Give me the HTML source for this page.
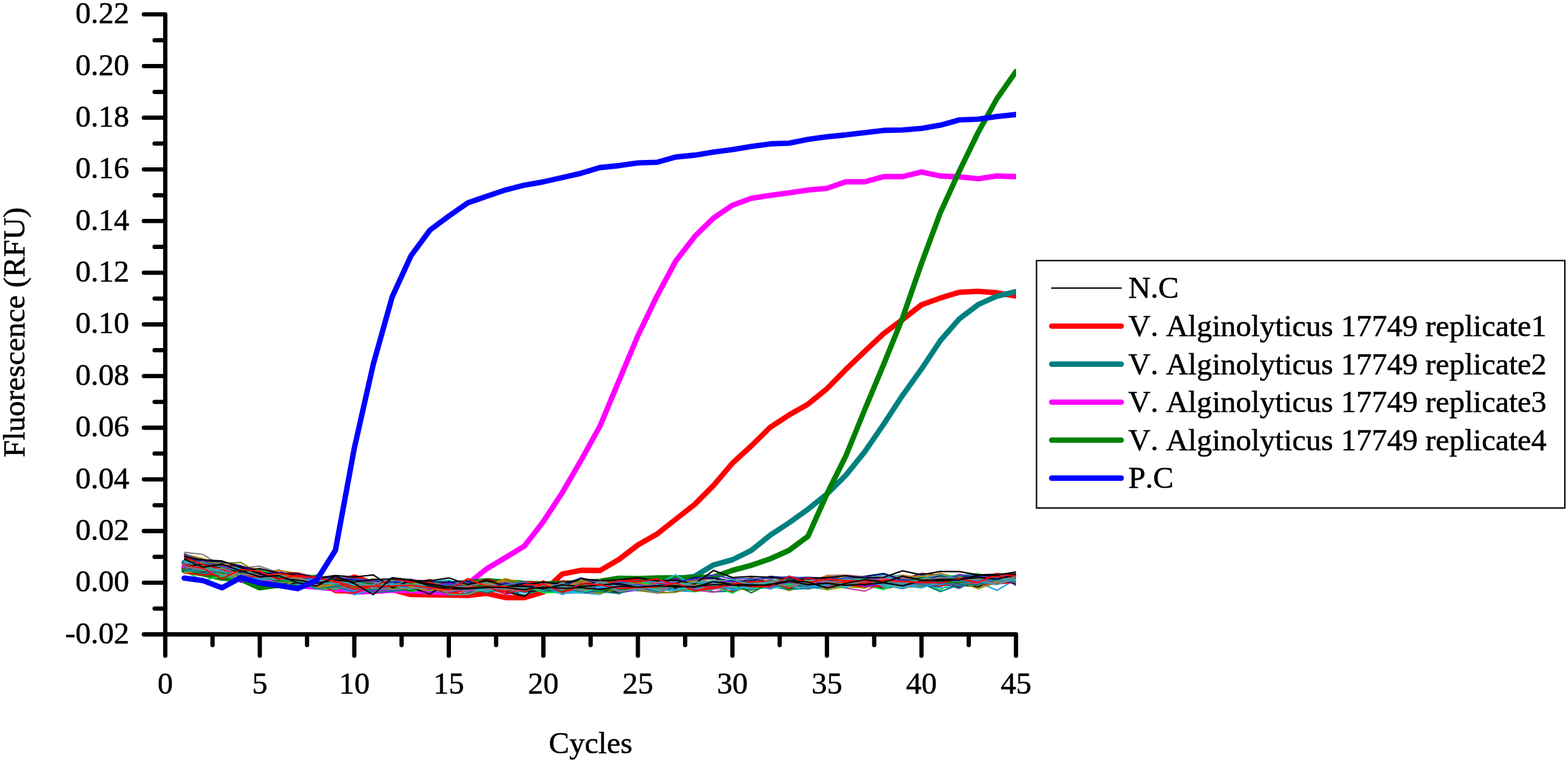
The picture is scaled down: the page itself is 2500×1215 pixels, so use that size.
<!DOCTYPE html>
<html><head><meta charset="utf-8"><style>html,body{margin:0;padding:0;background:#fff;}svg{display:block;}text{font-kerning:none;}</style></head><body>
<svg width="2500" height="1215" viewBox="0 0 2500 1215">
<rect width="2500" height="1215" fill="#fff"/>
<defs><clipPath id="pc"><rect x="0" y="0" width="1619.9" height="1215"/></clipPath></defs>
<g clip-path="url(#pc)">
<g fill="none" stroke-width="8.6" stroke-linejoin="round" stroke-linecap="round">
<polyline stroke="#ff0000" points="293.6,906.0 323.8,912.0 353.9,918.0 384.1,922.0 414.2,928.0 444.4,930.0 474.5,932.0 504.6,934.0 534.8,930.0 564.9,920.0 595.1,930.0 625.2,940.0 655.3,948.0 685.5,948.4 715.6,949.0 745.8,949.5 775.9,946.1 806.1,952.9 836.2,952.9 866.3,943.9 896.5,915.2 926.6,909.4 956.8,909.6 986.9,892.0 1017.0,869.0 1047.2,851.8 1077.3,828.0 1107.5,804.4 1137.6,774.1 1167.8,738.5 1197.9,711.0 1228.0,681.3 1258.2,661.6 1288.3,644.4 1318.5,619.8 1348.6,589.2 1378.8,560.2 1408.9,531.9 1439.0,509.5 1469.2,486.0 1499.3,475.2 1529.5,466.0 1559.6,464.5 1589.7,466.9 1619.9,472.0"/>
<polyline stroke="#008080" points="293.6,897.0 323.8,905.0 353.9,912.0 384.1,918.0 414.2,924.0 444.4,928.0 474.5,930.0 504.6,932.0 534.8,933.0 564.9,934.0 595.1,934.0 625.2,935.0 655.3,935.0 685.5,935.0 715.6,935.0 745.8,934.0 775.9,934.0 806.1,934.0 836.2,934.0 866.3,934.0 896.5,932.0 926.6,930.0 956.8,928.0 986.9,926.0 1017.0,925.0 1047.2,924.0 1077.3,923.0 1107.5,919.0 1137.6,900.8 1167.8,892.5 1197.9,877.6 1228.0,853.3 1258.2,833.5 1288.3,811.9 1318.5,787.6 1348.6,757.8 1378.8,720.2 1408.9,676.4 1439.0,630.4 1469.2,588.3 1499.3,543.1 1529.5,508.4 1559.6,485.7 1589.7,472.2 1619.9,465.0"/>
<polyline stroke="#ff00ff" points="293.6,903.0 323.8,910.0 353.9,915.0 384.1,920.0 414.2,926.0 444.4,930.0 474.5,934.0 504.6,936.0 534.8,939.0 564.9,944.0 595.1,943.0 625.2,941.0 655.3,942.0 685.5,944.0 715.6,945.0 745.8,931.0 775.9,907.0 806.1,889.0 836.2,870.7 866.3,831.6 896.5,785.5 926.6,733.7 956.8,679.0 986.9,607.0 1017.0,535.3 1047.2,472.7 1077.3,416.4 1107.5,377.3 1137.6,347.6 1167.8,327.3 1197.9,316.3 1228.0,311.6 1258.2,307.5 1288.3,303.0 1318.5,300.2 1348.6,289.9 1378.8,289.9 1408.9,281.6 1439.0,281.6 1469.2,274.3 1499.3,280.6 1529.5,282.0 1559.6,285.0 1589.7,280.6 1619.9,281.6"/>
<polyline stroke="#008000" points="293.6,909.8 323.8,915.1 353.9,921.8 384.1,923.8 414.2,937.2 444.4,933.0 474.5,932.0 504.6,931.0 534.8,930.0 564.9,931.0 595.1,932.0 625.2,931.0 655.3,930.0 685.5,930.0 715.6,931.0 745.8,929.0 775.9,926.0 806.1,928.0 836.2,930.0 866.3,931.0 896.5,930.0 926.6,929.0 956.8,926.8 986.9,922.0 1017.0,922.5 1047.2,921.5 1077.3,921.3 1107.5,921.0 1137.6,920.0 1167.8,909.5 1197.9,901.4 1228.0,891.0 1258.2,877.5 1288.3,855.0 1318.5,787.5 1348.6,727.0 1378.8,653.0 1408.9,581.0 1439.0,507.0 1469.2,420.0 1499.3,339.0 1529.5,273.0 1559.6,211.0 1589.7,157.0 1619.9,114.0"/>
</g>
<g fill="none" stroke-width="2.2" stroke-linejoin="miter">
<polyline stroke="#000000" points="293.6,897.7 323.8,902.8 353.9,905.4 384.1,912.8 414.2,922.9 444.4,923.0 474.5,928.8 504.6,928.4 534.8,932.1 564.9,934.2 595.1,926.9 625.2,938.8 655.3,938.1 685.5,938.9 715.6,930.1 745.8,929.9 775.9,933.8 806.1,935.8 836.2,939.3 866.3,937.8 896.5,940.0 926.6,934.6 956.8,938.5 986.9,938.6 1017.0,933.6 1047.2,943.5 1077.3,937.8 1107.5,940.0 1137.6,931.4 1167.8,930.3 1197.9,931.4 1228.0,931.9 1258.2,934.5 1288.3,932.2 1318.5,928.6 1348.6,925.7 1378.8,927.0 1408.9,934.1 1439.0,924.6 1469.2,928.6 1499.3,928.8 1529.5,919.8 1559.6,925.9 1589.7,930.9 1619.9,915.7"/>
<polyline stroke="#ff0000" points="293.6,892.8 323.8,904.2 353.9,907.1 384.1,905.3 414.2,919.6 444.4,922.1 474.5,926.4 504.6,931.7 534.8,930.0 564.9,932.0 595.1,926.6 625.2,935.9 655.3,931.3 685.5,932.8 715.6,930.1 745.8,931.5 775.9,933.5 806.1,941.6 836.2,927.1 866.3,929.8 896.5,936.9 926.6,941.9 956.8,937.8 986.9,926.6 1017.0,923.6 1047.2,935.7 1077.3,930.2 1107.5,928.0 1137.6,936.6 1167.8,936.5 1197.9,931.8 1228.0,931.6 1258.2,931.8 1288.3,936.3 1318.5,931.4 1348.6,930.4 1378.8,929.9 1408.9,920.0 1439.0,931.9 1469.2,929.9 1499.3,927.4 1529.5,915.8 1559.6,921.1 1589.7,927.0 1619.9,914.7"/>
<polyline stroke="#3070b0" points="293.6,895.0 323.8,913.2 353.9,913.8 384.1,914.9 414.2,921.1 444.4,925.6 474.5,926.4 504.6,933.9 534.8,929.0 564.9,933.1 595.1,940.4 625.2,936.7 655.3,933.5 685.5,942.4 715.6,945.5 745.8,937.2 775.9,933.2 806.1,938.8 836.2,938.8 866.3,938.2 896.5,945.4 926.6,934.4 956.8,944.2 986.9,932.8 1017.0,934.6 1047.2,940.2 1077.3,941.8 1107.5,940.0 1137.6,937.2 1167.8,935.7 1197.9,935.1 1228.0,936.4 1258.2,932.5 1288.3,933.9 1318.5,934.6 1348.6,931.5 1378.8,934.2 1408.9,932.7 1439.0,938.5 1469.2,930.5 1499.3,926.6 1529.5,926.2 1559.6,927.2 1589.7,930.7 1619.9,924.6"/>
<polyline stroke="#20a0e0" points="293.6,895.9 323.8,906.6 353.9,917.1 384.1,921.4 414.2,924.4 444.4,924.3 474.5,931.9 504.6,933.1 534.8,932.5 564.9,948.4 595.1,940.0 625.2,936.8 655.3,939.6 685.5,939.8 715.6,941.3 745.8,929.6 775.9,939.6 806.1,946.3 836.2,936.8 866.3,941.7 896.5,945.9 926.6,945.2 956.8,947.7 986.9,933.3 1017.0,939.0 1047.2,938.4 1077.3,942.1 1107.5,943.5 1137.6,926.3 1167.8,942.3 1197.9,930.5 1228.0,939.3 1258.2,929.1 1288.3,935.9 1318.5,939.8 1348.6,933.3 1378.8,934.2 1408.9,936.2 1439.0,932.7 1469.2,931.1 1499.3,937.7 1529.5,934.9 1559.6,928.4 1589.7,941.2 1619.9,923.5"/>
<polyline stroke="#808000" points="293.6,905.2 323.8,911.1 353.9,912.8 384.1,917.7 414.2,911.5 444.4,914.1 474.5,926.1 504.6,921.8 534.8,924.3 564.9,925.2 595.1,937.9 625.2,936.4 655.3,940.3 685.5,930.4 715.6,935.3 745.8,930.4 775.9,938.8 806.1,942.5 836.2,931.7 866.3,942.6 896.5,939.8 926.6,934.3 956.8,926.1 986.9,940.7 1017.0,933.8 1047.2,931.0 1077.3,934.8 1107.5,934.2 1137.6,938.4 1167.8,926.7 1197.9,935.6 1228.0,936.5 1258.2,935.8 1288.3,928.0 1318.5,924.9 1348.6,932.1 1378.8,927.5 1408.9,926.9 1439.0,932.1 1469.2,924.0 1499.3,914.5 1529.5,922.3 1559.6,915.2 1589.7,926.4 1619.9,923.6"/>
<polyline stroke="#a0a000" points="293.6,898.4 323.8,901.1 353.9,912.4 384.1,910.9 414.2,920.2 444.4,925.5 474.5,929.3 504.6,922.4 534.8,932.4 564.9,923.4 595.1,927.8 625.2,924.8 655.3,938.9 685.5,929.6 715.6,935.8 745.8,935.2 775.9,936.0 806.1,933.6 836.2,937.4 866.3,944.3 896.5,936.4 926.6,938.2 956.8,940.0 986.9,934.4 1017.0,929.4 1047.2,931.9 1077.3,938.5 1107.5,925.9 1137.6,929.9 1167.8,936.4 1197.9,934.9 1228.0,930.8 1258.2,933.7 1288.3,930.3 1318.5,923.8 1348.6,921.5 1378.8,925.0 1408.9,931.2 1439.0,924.1 1469.2,922.0 1499.3,922.0 1529.5,918.0 1559.6,923.7 1589.7,918.4 1619.9,924.6"/>
<polyline stroke="#808080" points="293.6,880.6 323.8,884.0 353.9,903.8 384.1,905.8 414.2,902.9 444.4,913.2 474.5,922.3 504.6,922.7 534.8,931.7 564.9,935.0 595.1,935.8 625.2,935.3 655.3,940.7 685.5,938.7 715.6,938.7 745.8,927.7 775.9,941.0 806.1,942.9 836.2,936.0 866.3,935.3 896.5,945.7 926.6,929.1 956.8,938.6 986.9,946.9 1017.0,931.9 1047.2,938.4 1077.3,943.1 1107.5,933.6 1137.6,936.0 1167.8,937.0 1197.9,928.4 1228.0,931.4 1258.2,932.5 1288.3,934.2 1318.5,929.8 1348.6,928.5 1378.8,924.3 1408.9,926.6 1439.0,931.5 1469.2,927.4 1499.3,922.6 1529.5,922.1 1559.6,936.9 1589.7,929.6 1619.9,926.8"/>
<polyline stroke="#8000ff" points="293.6,884.8 323.8,899.6 353.9,902.5 384.1,906.9 414.2,915.4 444.4,909.0 474.5,926.1 504.6,926.8 534.8,925.9 564.9,938.3 595.1,941.6 625.2,928.5 655.3,932.7 685.5,937.9 715.6,938.3 745.8,936.0 775.9,933.6 806.1,947.4 836.2,942.7 866.3,933.0 896.5,932.1 926.6,945.2 956.8,941.8 986.9,945.2 1017.0,940.4 1047.2,932.4 1077.3,936.8 1107.5,925.6 1137.6,931.2 1167.8,933.6 1197.9,935.6 1228.0,929.5 1258.2,931.5 1288.3,933.5 1318.5,932.5 1348.6,933.1 1378.8,930.6 1408.9,927.6 1439.0,931.9 1469.2,928.1 1499.3,923.6 1529.5,923.9 1559.6,926.1 1589.7,925.0 1619.9,925.6"/>
<polyline stroke="#800000" points="293.6,898.9 323.8,899.0 353.9,911.4 384.1,918.2 414.2,919.4 444.4,919.7 474.5,925.5 504.6,922.3 534.8,921.2 564.9,932.8 595.1,929.2 625.2,937.4 655.3,930.2 685.5,924.2 715.6,932.0 745.8,943.6 775.9,935.0 806.1,930.8 836.2,933.6 866.3,939.3 896.5,938.9 926.6,937.2 956.8,942.7 986.9,938.9 1017.0,935.4 1047.2,937.6 1077.3,941.6 1107.5,938.0 1137.6,937.6 1167.8,927.8 1197.9,931.3 1228.0,934.5 1258.2,929.4 1288.3,934.8 1318.5,932.2 1348.6,932.9 1378.8,927.4 1408.9,938.9 1439.0,932.6 1469.2,925.6 1499.3,926.3 1529.5,936.7 1559.6,923.2 1589.7,928.0 1619.9,927.8"/>
<polyline stroke="#b07070" points="293.6,896.4 323.8,902.1 353.9,910.5 384.1,913.0 414.2,913.6 444.4,920.3 474.5,921.9 504.6,923.4 534.8,925.7 564.9,927.4 595.1,932.3 625.2,925.5 655.3,928.1 685.5,931.7 715.6,926.1 745.8,930.7 775.9,923.9 806.1,929.8 836.2,935.4 866.3,935.5 896.5,932.5 926.6,931.4 956.8,925.9 986.9,939.8 1017.0,933.8 1047.2,935.7 1077.3,926.4 1107.5,928.9 1137.6,921.1 1167.8,931.9 1197.9,932.0 1228.0,919.0 1258.2,926.5 1288.3,928.9 1318.5,917.7 1348.6,916.9 1378.8,919.6 1408.9,920.9 1439.0,916.9 1469.2,922.6 1499.3,923.0 1529.5,924.1 1559.6,923.8 1589.7,926.7 1619.9,924.6"/>
<polyline stroke="#c08000" points="293.6,883.6 323.8,890.8 353.9,901.9 384.1,907.6 414.2,914.7 444.4,909.3 474.5,914.4 504.6,923.1 534.8,925.7 564.9,928.4 595.1,930.5 625.2,928.3 655.3,935.7 685.5,935.0 715.6,933.9 745.8,931.5 775.9,933.8 806.1,922.7 836.2,930.5 866.3,935.1 896.5,928.0 926.6,935.2 956.8,934.7 986.9,927.7 1017.0,932.4 1047.2,931.5 1077.3,934.3 1107.5,934.4 1137.6,930.9 1167.8,926.7 1197.9,929.2 1228.0,929.0 1258.2,931.9 1288.3,929.4 1318.5,924.3 1348.6,920.9 1378.8,924.6 1408.9,922.4 1439.0,920.2 1469.2,924.0 1499.3,921.7 1529.5,923.7 1559.6,925.0 1589.7,920.3 1619.9,931.7"/>
<polyline stroke="#008080" points="293.6,900.6 323.8,910.5 353.9,900.6 384.1,912.0 414.2,920.7 444.4,925.4 474.5,936.2 504.6,930.4 534.8,937.7 564.9,938.5 595.1,940.1 625.2,939.1 655.3,936.9 685.5,940.7 715.6,934.5 745.8,944.6 775.9,935.0 806.1,940.7 836.2,949.0 866.3,938.8 896.5,939.6 926.6,944.3 956.8,939.0 986.9,935.0 1017.0,939.4 1047.2,940.3 1077.3,940.2 1107.5,933.1 1137.6,943.6 1167.8,942.6 1197.9,934.8 1228.0,935.3 1258.2,931.6 1288.3,939.1 1318.5,929.2 1348.6,934.7 1378.8,929.0 1408.9,927.5 1439.0,933.1 1469.2,935.2 1499.3,928.7 1529.5,925.1 1559.6,931.1 1589.7,926.7 1619.9,927.7"/>
<polyline stroke="#00e040" points="293.6,910.8 323.8,925.5 353.9,918.4 384.1,924.4 414.2,920.9 444.4,925.8 474.5,920.6 504.6,938.7 534.8,939.5 564.9,930.9 595.1,930.2 625.2,930.3 655.3,943.3 685.5,936.8 715.6,939.3 745.8,938.3 775.9,939.2 806.1,935.0 836.2,940.0 866.3,933.6 896.5,939.3 926.6,940.7 956.8,941.1 986.9,937.7 1017.0,934.4 1047.2,938.5 1077.3,935.1 1107.5,943.5 1137.6,939.4 1167.8,934.9 1197.9,932.7 1228.0,931.1 1258.2,929.5 1288.3,931.4 1318.5,933.7 1348.6,934.1 1378.8,933.7 1408.9,939.8 1439.0,926.9 1469.2,929.5 1499.3,941.1 1529.5,920.0 1559.6,925.3 1589.7,927.7 1619.9,927.1"/>
<polyline stroke="#000080" points="293.6,902.7 323.8,905.7 353.9,913.3 384.1,905.2 414.2,913.3 444.4,920.0 474.5,918.3 504.6,921.1 534.8,931.3 564.9,928.6 595.1,935.0 625.2,936.3 655.3,935.1 685.5,936.8 715.6,934.9 745.8,929.2 775.9,935.4 806.1,937.6 836.2,933.4 866.3,935.4 896.5,938.8 926.6,931.3 956.8,937.7 986.9,942.8 1017.0,931.8 1047.2,934.3 1077.3,932.4 1107.5,939.3 1137.6,933.3 1167.8,935.2 1197.9,927.6 1228.0,930.0 1258.2,929.4 1288.3,921.1 1318.5,934.6 1348.6,931.6 1378.8,919.4 1408.9,929.8 1439.0,925.3 1469.2,927.3 1499.3,926.3 1529.5,917.5 1559.6,922.6 1589.7,929.5 1619.9,919.8"/>
<polyline stroke="#60a060" points="293.6,882.4 323.8,896.0 353.9,908.3 384.1,907.8 414.2,911.7 444.4,924.0 474.5,915.3 504.6,918.0 534.8,926.5 564.9,929.8 595.1,923.8 625.2,924.1 655.3,931.4 685.5,932.0 715.6,926.0 745.8,931.0 775.9,929.7 806.1,934.2 836.2,931.8 866.3,932.0 896.5,930.5 926.6,936.4 956.8,937.6 986.9,929.6 1017.0,934.6 1047.2,927.0 1077.3,930.0 1107.5,932.4 1137.6,935.2 1167.8,926.2 1197.9,927.0 1228.0,927.6 1258.2,919.5 1288.3,925.6 1318.5,921.9 1348.6,926.0 1378.8,918.7 1408.9,914.4 1439.0,922.7 1469.2,923.1 1499.3,918.9 1529.5,924.6 1559.6,918.9 1589.7,916.9 1619.9,921.0"/>
<polyline stroke="#20c0d0" points="293.6,885.9 323.8,897.5 353.9,900.1 384.1,907.7 414.2,908.6 444.4,916.7 474.5,926.3 504.6,919.5 534.8,936.3 564.9,926.3 595.1,930.2 625.2,931.9 655.3,936.5 685.5,927.5 715.6,924.5 745.8,936.6 775.9,937.6 806.1,936.9 836.2,945.9 866.3,935.3 896.5,935.2 926.6,937.9 956.8,935.2 986.9,940.6 1017.0,927.5 1047.2,930.7 1077.3,916.6 1107.5,934.7 1137.6,928.9 1167.8,934.0 1197.9,938.8 1228.0,928.7 1258.2,927.0 1288.3,925.4 1318.5,923.3 1348.6,923.6 1378.8,928.6 1408.9,925.3 1439.0,924.9 1469.2,923.2 1499.3,927.4 1529.5,924.9 1559.6,921.5 1589.7,924.5 1619.9,920.3"/>
<polyline stroke="#c040a0" points="293.6,897.3 323.8,898.1 353.9,913.6 384.1,915.5 414.2,911.9 444.4,929.5 474.5,927.4 504.6,933.2 534.8,933.4 564.9,935.1 595.1,929.9 625.2,941.9 655.3,938.6 685.5,938.1 715.6,941.8 745.8,940.7 775.9,943.5 806.1,939.0 836.2,940.6 866.3,931.4 896.5,938.7 926.6,943.2 956.8,945.8 986.9,938.1 1017.0,938.8 1047.2,945.7 1077.3,936.7 1107.5,940.8 1137.6,944.3 1167.8,936.5 1197.9,941.2 1228.0,932.0 1258.2,935.5 1288.3,933.6 1318.5,933.9 1348.6,937.7 1378.8,942.7 1408.9,928.6 1439.0,928.4 1469.2,932.6 1499.3,925.1 1529.5,931.4 1559.6,931.1 1589.7,926.7 1619.9,929.7"/>
<polyline stroke="#4040c0" points="293.6,883.6 323.8,895.1 353.9,902.7 384.1,908.9 414.2,919.6 444.4,920.0 474.5,921.6 504.6,929.2 534.8,937.1 564.9,933.5 595.1,936.1 625.2,940.9 655.3,937.5 685.5,931.6 715.6,949.0 745.8,947.9 775.9,929.6 806.1,938.3 836.2,940.5 866.3,943.0 896.5,941.4 926.6,937.0 956.8,933.2 986.9,938.0 1017.0,941.8 1047.2,931.9 1077.3,931.6 1107.5,935.4 1137.6,926.4 1167.8,933.1 1197.9,931.8 1228.0,935.1 1258.2,929.4 1288.3,928.0 1318.5,929.5 1348.6,930.5 1378.8,927.2 1408.9,929.5 1439.0,932.2 1469.2,933.5 1499.3,935.2 1529.5,923.6 1559.6,924.6 1589.7,915.0 1619.9,933.6"/>
<polyline stroke="#008000" points="293.6,896.1 323.8,894.1 353.9,908.1 384.1,910.6 414.2,907.2 444.4,920.0 474.5,927.2 504.6,917.0 534.8,931.9 564.9,932.4 595.1,934.5 625.2,935.2 655.3,939.9 685.5,934.0 715.6,939.7 745.8,934.1 775.9,939.3 806.1,932.6 836.2,935.8 866.3,944.0 896.5,938.0 926.6,935.1 956.8,930.5 986.9,931.7 1017.0,935.7 1047.2,938.4 1077.3,935.6 1107.5,935.4 1137.6,932.3 1167.8,937.8 1197.9,929.6 1228.0,928.3 1258.2,934.0 1288.3,929.8 1318.5,927.7 1348.6,925.8 1378.8,926.6 1408.9,929.8 1439.0,928.1 1469.2,920.6 1499.3,927.2 1529.5,925.5 1559.6,919.7 1589.7,926.9 1619.9,921.7"/>
<polyline stroke="#3070b0" points="293.6,904.9 323.8,901.6 353.9,912.0 384.1,910.5 414.2,928.8 444.4,919.7 474.5,930.2 504.6,925.2 534.8,934.7 564.9,944.0 595.1,923.9 625.2,934.0 655.3,938.9 685.5,937.1 715.6,935.4 745.8,947.9 775.9,938.9 806.1,931.4 836.2,942.5 866.3,931.3 896.5,943.6 926.6,935.7 956.8,938.6 986.9,943.2 1017.0,937.9 1047.2,930.7 1077.3,928.7 1107.5,940.8 1137.6,938.2 1167.8,930.8 1197.9,937.6 1228.0,935.4 1258.2,935.4 1288.3,922.0 1318.5,930.1 1348.6,934.7 1378.8,933.4 1408.9,933.5 1439.0,918.2 1469.2,929.1 1499.3,930.0 1529.5,938.4 1559.6,922.4 1589.7,924.5 1619.9,925.5"/>
<polyline stroke="#20a0e0" points="293.6,908.9 323.8,903.9 353.9,912.3 384.1,912.0 414.2,918.3 444.4,917.1 474.5,915.8 504.6,930.3 534.8,929.6 564.9,928.7 595.1,932.7 625.2,936.9 655.3,929.0 685.5,933.5 715.6,937.2 745.8,937.2 775.9,933.5 806.1,925.7 836.2,940.6 866.3,936.6 896.5,934.9 926.6,933.4 956.8,935.4 986.9,932.1 1017.0,929.2 1047.2,929.8 1077.3,929.8 1107.5,929.2 1137.6,926.2 1167.8,933.5 1197.9,924.3 1228.0,932.4 1258.2,924.4 1288.3,929.8 1318.5,933.7 1348.6,928.0 1378.8,923.3 1408.9,926.1 1439.0,925.9 1469.2,917.0 1499.3,921.4 1529.5,924.2 1559.6,920.8 1589.7,922.6 1619.9,924.9"/>
<polyline stroke="#000000" points="293.6,909.7 323.8,909.5 353.9,914.7 384.1,916.8 414.2,920.1 444.4,923.2 474.5,919.1 504.6,928.0 534.8,932.2 564.9,930.8 595.1,935.7 625.2,938.8 655.3,936.6 685.5,947.2 715.6,927.3 745.8,938.0 775.9,930.9 806.1,943.4 836.2,950.8 866.3,928.2 896.5,939.5 926.6,940.9 956.8,937.0 986.9,940.5 1017.0,927.9 1047.2,940.9 1077.3,938.2 1107.5,936.0 1137.6,932.7 1167.8,937.5 1197.9,932.0 1228.0,934.5 1258.2,930.7 1288.3,922.4 1318.5,931.6 1348.6,932.0 1378.8,933.8 1408.9,926.1 1439.0,929.2 1469.2,931.4 1499.3,928.8 1529.5,933.0 1559.6,935.7 1589.7,922.3 1619.9,917.3"/>
<polyline stroke="#ff0000" points="293.6,913.6 323.8,916.7 353.9,914.3 384.1,917.0 414.2,927.4 444.4,922.0 474.5,920.7 504.6,927.0 534.8,945.2 564.9,945.5 595.1,934.7 625.2,935.2 655.3,940.2 685.5,936.6 715.6,946.5 745.8,940.4 775.9,936.1 806.1,946.7 836.2,938.5 866.3,942.1 896.5,940.8 926.6,939.1 956.8,941.6 986.9,936.8 1017.0,931.5 1047.2,929.3 1077.3,932.8 1107.5,934.5 1137.6,937.1 1167.8,936.8 1197.9,938.4 1228.0,935.9 1258.2,931.3 1288.3,931.1 1318.5,924.3 1348.6,932.2 1378.8,934.5 1408.9,934.1 1439.0,930.7 1469.2,929.8 1499.3,934.1 1529.5,929.5 1559.6,932.0 1589.7,930.8 1619.9,928.5"/>
<polyline stroke="#808080" points="293.6,904.8 323.8,905.6 353.9,908.9 384.1,922.0 414.2,925.9 444.4,920.6 474.5,925.4 504.6,930.7 534.8,931.8 564.9,936.3 595.1,926.1 625.2,929.5 655.3,935.0 685.5,940.0 715.6,934.9 745.8,930.7 775.9,933.0 806.1,931.7 836.2,931.0 866.3,941.4 896.5,931.8 926.6,934.3 956.8,943.4 986.9,938.8 1017.0,934.8 1047.2,930.0 1077.3,933.9 1107.5,938.6 1137.6,933.6 1167.8,935.8 1197.9,930.1 1228.0,931.4 1258.2,927.6 1288.3,929.8 1318.5,933.0 1348.6,920.4 1378.8,925.8 1408.9,926.5 1439.0,922.4 1469.2,922.9 1499.3,927.1 1529.5,931.9 1559.6,925.3 1589.7,923.3 1619.9,914.5"/>
<polyline stroke="#40a0a0" points="293.6,912.6 323.8,909.4 353.9,916.6 384.1,914.1 414.2,921.8 444.4,925.5 474.5,925.8 504.6,929.3 534.8,926.9 564.9,939.6 595.1,930.9 625.2,926.4 655.3,934.2 685.5,932.4 715.6,932.0 745.8,935.0 775.9,937.9 806.1,931.4 836.2,936.1 866.3,943.1 896.5,939.5 926.6,935.5 956.8,936.4 986.9,935.0 1017.0,935.0 1047.2,937.9 1077.3,933.6 1107.5,922.9 1137.6,932.7 1167.8,928.3 1197.9,934.5 1228.0,928.3 1258.2,931.1 1288.3,939.4 1318.5,924.6 1348.6,923.7 1378.8,921.8 1408.9,916.9 1439.0,918.6 1469.2,927.8 1499.3,922.8 1529.5,916.8 1559.6,917.9 1589.7,926.5 1619.9,919.8"/>
<polyline stroke="#000000" points="293.6,903.4 323.8,911.6 353.9,913.1 384.1,913.5 414.2,918.0 444.4,928.3 474.5,929.8 504.6,925.3 534.8,931.7 564.9,934.1 595.1,933.9 625.2,932.3 655.3,929.5 685.5,933.8 715.6,930.2 745.8,942.4 775.9,939.5 806.1,932.0 836.2,943.5 866.3,941.4 896.5,928.8 926.6,945.0 956.8,940.2 986.9,945.4 1017.0,930.6 1047.2,937.7 1077.3,936.7 1107.5,935.1 1137.6,934.3 1167.8,937.6 1197.9,925.8 1228.0,926.3 1258.2,925.1 1288.3,928.1 1318.5,927.3 1348.6,931.0 1378.8,930.0 1408.9,928.3 1439.0,924.6 1469.2,925.0 1499.3,930.6 1529.5,929.2 1559.6,925.6 1589.7,923.2 1619.9,930.8"/>
<polyline stroke="#ff0000" points="293.6,901.9 323.8,901.7 353.9,912.2 384.1,908.3 414.2,922.1 444.4,921.8 474.5,917.2 504.6,930.3 534.8,926.6 564.9,939.3 595.1,931.5 625.2,934.6 655.3,937.5 685.5,935.6 715.6,939.0 745.8,935.6 775.9,941.1 806.1,938.2 836.2,939.3 866.3,926.3 896.5,943.2 926.6,938.0 956.8,929.7 986.9,937.7 1017.0,939.0 1047.2,941.1 1077.3,931.0 1107.5,942.0 1137.6,933.8 1167.8,944.5 1197.9,932.7 1228.0,935.7 1258.2,930.5 1288.3,926.6 1318.5,935.8 1348.6,934.3 1378.8,936.5 1408.9,932.9 1439.0,926.0 1469.2,920.6 1499.3,924.5 1529.5,923.8 1559.6,922.6 1589.7,928.1 1619.9,926.4"/>
<polyline stroke="#3070b0" points="293.6,897.0 323.8,904.0 353.9,911.8 384.1,916.9 414.2,913.9 444.4,913.4 474.5,929.5 504.6,926.8 534.8,934.2 564.9,925.1 595.1,931.8 625.2,934.2 655.3,928.5 685.5,933.4 715.6,939.7 745.8,941.3 775.9,943.7 806.1,933.0 836.2,930.7 866.3,939.3 896.5,940.8 926.6,937.3 956.8,930.4 986.9,939.3 1017.0,939.0 1047.2,937.4 1077.3,932.2 1107.5,935.1 1137.6,936.6 1167.8,930.1 1197.9,923.8 1228.0,932.8 1258.2,932.8 1288.3,930.2 1318.5,933.4 1348.6,926.3 1378.8,928.0 1408.9,926.4 1439.0,929.6 1469.2,933.5 1499.3,924.8 1529.5,934.4 1559.6,931.4 1589.7,927.6 1619.9,926.1"/>
<polyline stroke="#20a0e0" points="293.6,910.4 323.8,908.1 353.9,917.5 384.1,923.6 414.2,922.8 444.4,924.3 474.5,923.8 504.6,927.9 534.8,923.4 564.9,937.0 595.1,931.2 625.2,928.7 655.3,931.0 685.5,931.3 715.6,939.4 745.8,940.4 775.9,929.8 806.1,939.9 836.2,939.8 866.3,933.5 896.5,929.2 926.6,932.1 956.8,932.3 986.9,936.3 1017.0,932.9 1047.2,924.9 1077.3,934.3 1107.5,925.9 1137.6,936.0 1167.8,926.2 1197.9,927.8 1228.0,926.5 1258.2,927.3 1288.3,934.8 1318.5,932.2 1348.6,930.5 1378.8,928.7 1408.9,919.8 1439.0,923.8 1469.2,923.0 1499.3,920.6 1529.5,926.5 1559.6,920.4 1589.7,919.9 1619.9,917.9"/>
<polyline stroke="#808000" points="293.6,892.2 323.8,895.7 353.9,898.4 384.1,896.8 414.2,915.0 444.4,923.7 474.5,923.5 504.6,929.9 534.8,935.8 564.9,937.6 595.1,931.8 625.2,939.4 655.3,939.1 685.5,929.9 715.6,935.7 745.8,931.4 775.9,937.4 806.1,940.5 836.2,933.4 866.3,929.2 896.5,943.7 926.6,939.3 956.8,943.8 986.9,931.2 1017.0,941.4 1047.2,945.3 1077.3,944.4 1107.5,934.1 1137.6,935.6 1167.8,933.1 1197.9,937.6 1228.0,937.1 1258.2,932.4 1288.3,925.4 1318.5,934.0 1348.6,928.1 1378.8,932.4 1408.9,930.1 1439.0,935.5 1469.2,932.8 1499.3,925.2 1529.5,928.1 1559.6,933.7 1589.7,923.0 1619.9,926.7"/>
<polyline stroke="#a0a000" points="293.6,913.4 323.8,908.2 353.9,911.9 384.1,921.4 414.2,925.1 444.4,937.0 474.5,924.5 504.6,935.9 534.8,937.0 564.9,929.1 595.1,933.4 625.2,938.5 655.3,936.3 685.5,938.5 715.6,942.0 745.8,936.4 775.9,942.1 806.1,937.3 836.2,937.8 866.3,942.7 896.5,937.5 926.6,941.0 956.8,946.4 986.9,939.2 1017.0,938.1 1047.2,941.4 1077.3,936.0 1107.5,941.7 1137.6,930.7 1167.8,938.5 1197.9,932.9 1228.0,931.1 1258.2,941.8 1288.3,929.6 1318.5,940.5 1348.6,935.1 1378.8,938.0 1408.9,926.7 1439.0,935.6 1469.2,936.2 1499.3,928.7 1529.5,928.0 1559.6,938.8 1589.7,928.2 1619.9,924.9"/>
<polyline stroke="#808080" points="293.6,897.4 323.8,902.8 353.9,915.4 384.1,911.0 414.2,919.0 444.4,926.7 474.5,919.1 504.6,931.3 534.8,938.0 564.9,927.0 595.1,929.1 625.2,930.2 655.3,927.5 685.5,938.4 715.6,929.1 745.8,939.6 775.9,943.9 806.1,930.5 836.2,936.3 866.3,929.4 896.5,941.0 926.6,934.0 956.8,935.8 986.9,936.9 1017.0,938.7 1047.2,934.2 1077.3,935.2 1107.5,932.1 1137.6,934.4 1167.8,928.2 1197.9,933.0 1228.0,923.6 1258.2,929.4 1288.3,939.4 1318.5,930.7 1348.6,924.2 1378.8,930.3 1408.9,924.3 1439.0,920.7 1469.2,924.1 1499.3,930.0 1529.5,927.8 1559.6,925.1 1589.7,920.9 1619.9,919.6"/>
<polyline stroke="#8000ff" points="293.6,905.0 323.8,902.5 353.9,909.0 384.1,928.6 414.2,915.7 444.4,922.7 474.5,926.4 504.6,927.3 534.8,929.5 564.9,927.4 595.1,929.5 625.2,942.2 655.3,932.1 685.5,939.9 715.6,929.5 745.8,935.8 775.9,938.2 806.1,941.7 836.2,932.2 866.3,939.9 896.5,938.7 926.6,933.4 956.8,938.5 986.9,932.1 1017.0,932.2 1047.2,935.1 1077.3,922.6 1107.5,933.5 1137.6,928.9 1167.8,926.3 1197.9,930.3 1228.0,934.9 1258.2,929.2 1288.3,935.9 1318.5,924.6 1348.6,923.4 1378.8,935.4 1408.9,929.7 1439.0,931.5 1469.2,923.1 1499.3,929.7 1529.5,926.7 1559.6,927.8 1589.7,924.4 1619.9,929.0"/>
<polyline stroke="#800000" points="293.6,885.1 323.8,902.8 353.9,900.3 384.1,903.6 414.2,908.5 444.4,914.1 474.5,913.7 504.6,921.2 534.8,922.9 564.9,926.3 595.1,925.4 625.2,930.7 655.3,929.3 685.5,932.7 715.6,934.1 745.8,934.6 775.9,923.6 806.1,931.0 836.2,930.0 866.3,937.0 896.5,926.4 926.6,929.9 956.8,931.4 986.9,930.9 1017.0,936.5 1047.2,929.6 1077.3,935.2 1107.5,923.9 1137.6,921.7 1167.8,934.5 1197.9,930.4 1228.0,930.1 1258.2,927.9 1288.3,928.8 1318.5,920.8 1348.6,929.7 1378.8,922.6 1408.9,928.6 1439.0,924.1 1469.2,914.4 1499.3,916.8 1529.5,926.9 1559.6,920.7 1589.7,919.0 1619.9,921.2"/>
<polyline stroke="#b07070" points="293.6,894.8 323.8,900.8 353.9,912.4 384.1,910.3 414.2,922.7 444.4,925.6 474.5,928.4 504.6,928.6 534.8,927.6 564.9,930.7 595.1,930.4 625.2,928.6 655.3,932.4 685.5,930.7 715.6,941.5 745.8,936.8 775.9,932.6 806.1,926.2 836.2,934.5 866.3,933.0 896.5,929.8 926.6,929.3 956.8,924.1 986.9,936.2 1017.0,933.1 1047.2,944.1 1077.3,932.0 1107.5,930.9 1137.6,937.3 1167.8,931.0 1197.9,930.5 1228.0,927.5 1258.2,925.9 1288.3,934.6 1318.5,931.8 1348.6,934.3 1378.8,924.6 1408.9,925.7 1439.0,921.1 1469.2,928.6 1499.3,917.6 1529.5,925.7 1559.6,927.4 1589.7,928.2 1619.9,917.2"/>
<polyline stroke="#c08000" points="293.6,901.2 323.8,901.8 353.9,916.3 384.1,921.3 414.2,914.7 444.4,916.3 474.5,920.7 504.6,935.9 534.8,932.1 564.9,928.1 595.1,923.2 625.2,928.8 655.3,937.7 685.5,941.5 715.6,932.8 745.8,931.0 775.9,931.9 806.1,925.9 836.2,938.3 866.3,929.6 896.5,938.8 926.6,926.3 956.8,927.9 986.9,934.4 1017.0,929.5 1047.2,935.7 1077.3,931.7 1107.5,925.9 1137.6,933.2 1167.8,933.6 1197.9,920.8 1228.0,936.7 1258.2,930.2 1288.3,930.8 1318.5,918.7 1348.6,923.1 1378.8,924.1 1408.9,929.8 1439.0,918.0 1469.2,920.0 1499.3,914.3 1529.5,921.6 1559.6,923.6 1589.7,914.0 1619.9,918.3"/>
<polyline stroke="#008080" points="293.6,910.3 323.8,910.1 353.9,910.6 384.1,915.2 414.2,920.0 444.4,926.3 474.5,928.2 504.6,938.6 534.8,935.4 564.9,932.3 595.1,944.6 625.2,942.7 655.3,939.7 685.5,936.9 715.6,932.6 745.8,936.4 775.9,945.0 806.1,937.6 836.2,935.4 866.3,942.1 896.5,942.0 926.6,943.3 956.8,943.2 986.9,946.3 1017.0,936.1 1047.2,943.5 1077.3,934.2 1107.5,941.0 1137.6,938.1 1167.8,937.8 1197.9,940.4 1228.0,935.5 1258.2,939.9 1288.3,938.2 1318.5,934.4 1348.6,930.7 1378.8,929.2 1408.9,929.6 1439.0,930.5 1469.2,930.6 1499.3,943.3 1529.5,932.4 1559.6,932.3 1589.7,924.6 1619.9,924.6"/>
<polyline stroke="#00e040" points="293.6,892.8 323.8,910.0 353.9,905.8 384.1,917.4 414.2,906.6 444.4,920.0 474.5,924.4 504.6,927.1 534.8,932.0 564.9,933.6 595.1,934.0 625.2,925.8 655.3,931.8 685.5,925.4 715.6,939.3 745.8,938.0 775.9,935.9 806.1,933.2 836.2,934.4 866.3,945.2 896.5,944.4 926.6,936.2 956.8,941.8 986.9,928.9 1017.0,927.1 1047.2,932.8 1077.3,930.5 1107.5,931.3 1137.6,934.0 1167.8,945.9 1197.9,929.1 1228.0,931.6 1258.2,932.0 1288.3,930.0 1318.5,933.7 1348.6,936.8 1378.8,922.9 1408.9,928.5 1439.0,926.0 1469.2,928.1 1499.3,919.2 1529.5,917.6 1559.6,914.6 1589.7,926.5 1619.9,924.4"/>
<polyline stroke="#000080" points="293.6,890.8 323.8,894.0 353.9,896.0 384.1,902.1 414.2,913.1 444.4,915.4 474.5,915.9 504.6,921.2 534.8,919.3 564.9,925.3 595.1,925.9 625.2,929.0 655.3,927.0 685.5,927.5 715.6,928.3 745.8,926.2 775.9,938.9 806.1,931.5 836.2,931.2 866.3,939.5 896.5,935.3 926.6,922.0 956.8,931.6 986.9,931.9 1017.0,936.2 1047.2,933.1 1077.3,930.1 1107.5,920.9 1137.6,921.7 1167.8,926.1 1197.9,926.5 1228.0,919.2 1258.2,921.4 1288.3,920.7 1318.5,922.2 1348.6,922.8 1378.8,919.4 1408.9,914.7 1439.0,925.0 1469.2,925.9 1499.3,917.8 1529.5,922.2 1559.6,919.1 1589.7,919.4 1619.9,918.0"/>
<polyline stroke="#60a060" points="293.6,899.8 323.8,897.8 353.9,916.4 384.1,921.6 414.2,925.0 444.4,929.2 474.5,927.0 504.6,925.5 534.8,927.5 564.9,929.7 595.1,934.7 625.2,934.9 655.3,938.9 685.5,927.9 715.6,947.8 745.8,947.8 775.9,937.7 806.1,941.0 836.2,940.2 866.3,939.4 896.5,937.0 926.6,937.1 956.8,933.7 986.9,937.8 1017.0,936.6 1047.2,937.5 1077.3,931.8 1107.5,935.1 1137.6,934.5 1167.8,936.4 1197.9,928.4 1228.0,934.4 1258.2,936.2 1288.3,933.9 1318.5,929.1 1348.6,928.0 1378.8,928.5 1408.9,932.1 1439.0,935.2 1469.2,927.0 1499.3,924.3 1529.5,928.2 1559.6,926.8 1589.7,921.3 1619.9,921.5"/>
<polyline stroke="#20c0d0" points="293.6,895.1 323.8,901.0 353.9,912.8 384.1,909.3 414.2,919.3 444.4,923.4 474.5,924.4 504.6,923.4 534.8,930.7 564.9,932.5 595.1,936.3 625.2,931.9 655.3,941.2 685.5,929.8 715.6,937.2 745.8,938.1 775.9,942.4 806.1,935.6 836.2,940.8 866.3,936.0 896.5,941.5 926.6,945.6 956.8,935.8 986.9,939.3 1017.0,932.9 1047.2,940.7 1077.3,941.1 1107.5,935.4 1137.6,929.6 1167.8,935.8 1197.9,938.5 1228.0,937.6 1258.2,935.8 1288.3,923.6 1318.5,928.0 1348.6,936.7 1378.8,924.4 1408.9,934.2 1439.0,936.9 1469.2,931.4 1499.3,932.3 1529.5,925.4 1559.6,920.8 1589.7,925.2 1619.9,924.1"/>
<polyline stroke="#c040a0" points="293.6,900.1 323.8,906.7 353.9,912.8 384.1,914.9 414.2,927.1 444.4,924.0 474.5,925.4 504.6,927.1 534.8,928.3 564.9,940.0 595.1,935.5 625.2,930.9 655.3,934.0 685.5,936.7 715.6,936.1 745.8,943.0 775.9,933.2 806.1,940.6 836.2,939.1 866.3,933.4 896.5,938.5 926.6,937.6 956.8,939.9 986.9,935.4 1017.0,938.4 1047.2,929.2 1077.3,931.1 1107.5,938.7 1137.6,939.3 1167.8,934.0 1197.9,930.9 1228.0,937.7 1258.2,923.1 1288.3,928.2 1318.5,934.0 1348.6,933.4 1378.8,925.3 1408.9,921.0 1439.0,935.1 1469.2,928.8 1499.3,923.5 1529.5,927.1 1559.6,930.3 1589.7,914.3 1619.9,930.0"/>
<polyline stroke="#4040c0" points="293.6,901.3 323.8,893.8 353.9,910.7 384.1,910.7 414.2,922.3 444.4,912.3 474.5,917.7 504.6,925.1 534.8,920.5 564.9,923.1 595.1,925.2 625.2,927.3 655.3,923.6 685.5,931.2 715.6,932.2 745.8,930.2 775.9,937.5 806.1,928.7 836.2,935.9 866.3,927.9 896.5,933.3 926.6,921.2 956.8,930.2 986.9,928.3 1017.0,926.6 1047.2,925.5 1077.3,926.0 1107.5,923.8 1137.6,916.7 1167.8,923.1 1197.9,922.7 1228.0,922.3 1258.2,919.3 1288.3,922.8 1318.5,926.2 1348.6,921.1 1378.8,919.4 1408.9,926.9 1439.0,924.7 1469.2,923.8 1499.3,924.2 1529.5,917.1 1559.6,917.4 1589.7,922.3 1619.9,914.3"/>
<polyline stroke="#008000" points="293.6,900.9 323.8,903.3 353.9,914.0 384.1,913.0 414.2,921.1 444.4,925.6 474.5,926.9 504.6,930.2 534.8,924.9 564.9,927.3 595.1,931.2 625.2,936.8 655.3,942.1 685.5,930.9 715.6,938.5 745.8,933.5 775.9,934.1 806.1,936.2 836.2,940.6 866.3,938.6 896.5,942.5 926.6,932.7 956.8,940.6 986.9,940.5 1017.0,936.4 1047.2,937.6 1077.3,932.5 1107.5,929.5 1137.6,932.0 1167.8,930.3 1197.9,945.2 1228.0,929.8 1258.2,938.6 1288.3,931.6 1318.5,931.5 1348.6,932.8 1378.8,925.5 1408.9,932.4 1439.0,929.4 1469.2,920.5 1499.3,929.2 1529.5,928.4 1559.6,927.3 1589.7,931.7 1619.9,922.3"/>
<polyline stroke="#3070b0" points="293.6,900.9 323.8,914.2 353.9,906.9 384.1,911.0 414.2,922.7 444.4,918.3 474.5,925.4 504.6,921.5 534.8,931.9 564.9,929.5 595.1,936.8 625.2,929.3 655.3,938.7 685.5,936.4 715.6,938.6 745.8,938.1 775.9,939.1 806.1,932.8 836.2,927.4 866.3,938.9 896.5,934.3 926.6,936.2 956.8,939.7 986.9,928.8 1017.0,933.9 1047.2,934.0 1077.3,931.4 1107.5,936.9 1137.6,934.2 1167.8,930.6 1197.9,929.3 1228.0,936.6 1258.2,929.5 1288.3,934.4 1318.5,933.2 1348.6,922.3 1378.8,925.3 1408.9,929.5 1439.0,930.3 1469.2,931.7 1499.3,931.2 1529.5,931.6 1559.6,924.8 1589.7,924.9 1619.9,928.7"/>
<polyline stroke="#20a0e0" points="293.6,892.2 323.8,907.8 353.9,909.7 384.1,906.3 414.2,923.5 444.4,923.8 474.5,925.7 504.6,924.0 534.8,929.8 564.9,941.6 595.1,932.2 625.2,921.4 655.3,933.7 685.5,933.0 715.6,938.5 745.8,937.5 775.9,935.3 806.1,935.7 836.2,944.2 866.3,933.3 896.5,948.0 926.6,936.7 956.8,934.0 986.9,941.9 1017.0,940.6 1047.2,933.0 1077.3,940.3 1107.5,928.3 1137.6,931.7 1167.8,940.1 1197.9,933.4 1228.0,928.2 1258.2,935.6 1288.3,936.8 1318.5,932.1 1348.6,923.6 1378.8,929.4 1408.9,932.2 1439.0,933.2 1469.2,937.3 1499.3,927.5 1529.5,925.8 1559.6,927.2 1589.7,932.1 1619.9,922.0"/>
<polyline stroke="#000000" points="293.6,903.4 323.8,899.6 353.9,907.9 384.1,911.7 414.2,906.5 444.4,913.6 474.5,917.5 504.6,921.6 534.8,917.6 564.9,920.1 595.1,916.6 625.2,936.9 655.3,925.6 685.5,926.2 715.6,921.3 745.8,932.1 775.9,925.7 806.1,934.4 836.2,932.0 866.3,928.4 896.5,931.2 926.6,922.8 956.8,925.9 986.9,924.5 1017.0,921.2 1047.2,926.2 1077.3,924.9 1107.5,931.3 1137.6,909.6 1167.8,920.8 1197.9,919.1 1228.0,920.5 1258.2,923.8 1288.3,923.1 1318.5,920.9 1348.6,918.1 1378.8,921.7 1408.9,920.5 1439.0,910.2 1469.2,916.6 1499.3,911.1 1529.5,911.4 1559.6,916.6 1589.7,915.6 1619.9,915.3"/>
<polyline stroke="#ff0000" points="293.6,888.3 323.8,900.5 353.9,908.0 384.1,917.5 414.2,920.0 444.4,914.4 474.5,919.3 504.6,920.4 534.8,929.1 564.9,939.6 595.1,935.0 625.2,923.1 655.3,928.1 685.5,928.8 715.6,937.6 745.8,935.4 775.9,936.9 806.1,943.5 836.2,932.1 866.3,932.1 896.5,944.2 926.6,936.8 956.8,931.6 986.9,925.8 1017.0,927.7 1047.2,923.0 1077.3,933.5 1107.5,932.8 1137.6,936.4 1167.8,930.8 1197.9,927.7 1228.0,926.9 1258.2,938.0 1288.3,921.2 1318.5,929.2 1348.6,927.9 1378.8,929.9 1408.9,924.8 1439.0,928.2 1469.2,929.0 1499.3,924.1 1529.5,922.2 1559.6,922.8 1589.7,918.8 1619.9,921.5"/>
<polyline stroke="#808080" points="293.6,903.4 323.8,908.8 353.9,906.5 384.1,915.4 414.2,918.3 444.4,923.5 474.5,923.3 504.6,927.5 534.8,927.4 564.9,929.0 595.1,937.1 625.2,939.9 655.3,937.9 685.5,937.7 715.6,937.8 745.8,934.7 775.9,929.0 806.1,939.8 836.2,937.9 866.3,934.7 896.5,932.6 926.6,942.1 956.8,928.3 986.9,943.7 1017.0,938.4 1047.2,945.5 1077.3,931.3 1107.5,933.7 1137.6,931.0 1167.8,933.3 1197.9,931.1 1228.0,928.1 1258.2,935.6 1288.3,926.8 1318.5,927.4 1348.6,931.5 1378.8,926.1 1408.9,925.9 1439.0,928.8 1469.2,925.0 1499.3,920.5 1529.5,925.0 1559.6,923.9 1589.7,931.7 1619.9,918.8"/>
<polyline stroke="#40a0a0" points="293.6,901.9 323.8,905.3 353.9,911.7 384.1,917.3 414.2,924.5 444.4,916.5 474.5,927.7 504.6,928.9 534.8,930.9 564.9,926.8 595.1,934.8 625.2,931.1 655.3,933.8 685.5,931.8 715.6,936.7 745.8,938.7 775.9,938.9 806.1,933.1 836.2,938.5 866.3,940.6 896.5,929.7 926.6,940.0 956.8,927.4 986.9,935.3 1017.0,935.3 1047.2,938.6 1077.3,932.7 1107.5,928.7 1137.6,926.7 1167.8,924.1 1197.9,932.4 1228.0,927.4 1258.2,924.7 1288.3,929.6 1318.5,923.3 1348.6,924.1 1378.8,923.4 1408.9,932.1 1439.0,930.7 1469.2,922.9 1499.3,916.1 1529.5,923.7 1559.6,922.2 1589.7,922.8 1619.9,923.1"/>
<polyline stroke="#000000" points="293.6,887.6 323.8,892.7 353.9,894.4 384.1,905.0 414.2,915.0 444.4,922.0 474.5,925.0 504.6,930.0 534.8,925.0 564.9,928.0 595.1,924.0 625.2,923.0 655.3,925.0 685.5,934.1 715.6,939.2 745.8,939.0 775.9,936.9 806.1,934.9 836.2,934.7 866.3,938.9 896.5,932.4 926.6,935.3 956.8,933.0 986.9,930.4 1017.0,937.1 1047.2,934.3 1077.3,933.9 1107.5,936.3 1137.6,927.4 1167.8,931.8 1197.9,932.4 1228.0,933.7 1258.2,926.4 1288.3,932.1 1318.5,929.8 1348.6,933.1 1378.8,931.8 1408.9,929.1 1439.0,934.1 1469.2,926.0 1499.3,923.9 1529.5,923.6 1559.6,920.9 1589.7,923.5 1619.9,916.4"/>
<polyline stroke="#ff0000" points="293.6,901.0 323.8,906.1 353.9,922.9 384.1,907.8 414.2,911.2 444.4,923.8 474.5,917.0 504.6,922.0 534.8,927.1 564.9,935.5 595.1,934.7 625.2,934.7 655.3,933.0 685.5,937.2 715.6,940.5 745.8,922.6 775.9,935.0 806.1,935.0 836.2,943.9 866.3,931.0 896.5,944.5 926.6,931.0 956.8,932.7 986.9,938.4 1017.0,936.8 1047.2,936.0 1077.3,929.6 1107.5,942.4 1137.6,937.6 1167.8,932.0 1197.9,935.2 1228.0,935.2 1258.2,918.8 1288.3,929.4 1318.5,923.3 1348.6,925.6 1378.8,926.4 1408.9,925.6 1439.0,927.1 1469.2,928.6 1499.3,929.4 1529.5,923.3 1559.6,928.6 1589.7,915.7 1619.9,918.0"/>
<polyline stroke="#000000" points="293.6,891.8 323.8,904.4 353.9,899.4 384.1,910.3 414.2,919.6 444.4,917.9 474.5,928.8 504.6,934.7 534.8,918.7 564.9,930.5 595.1,948.1 625.2,921.2 655.3,924.6 685.5,931.3 715.6,936.4 745.8,938.0 775.9,936.0 806.1,937.0 836.2,940.0 866.3,936.0 896.5,938.0 926.6,937.0 956.8,940.0 986.9,935.0 1017.0,936.0 1047.2,934.0 1077.3,936.0 1107.5,935.0 1137.6,932.0 1167.8,933.0 1197.9,934.0 1228.0,932.0 1258.2,925.6 1288.3,928.0 1318.5,937.8 1348.6,930.2 1378.8,924.1 1408.9,928.6 1439.0,918.8 1469.2,924.8 1499.3,926.4 1529.5,924.8 1559.6,917.2 1589.7,917.2 1619.9,911.9"/>
</g>
<polyline fill="none" stroke-width="8.6" stroke-linejoin="round" stroke-linecap="round" stroke="#0000ff" points="293.6,921.8 323.8,925.7 353.9,937.2 384.1,920.9 414.2,929.5 444.4,933.4 474.5,938.6 504.6,925.5 534.8,877.4 564.9,714.6 595.1,581.0 625.2,473.6 655.3,407.8 685.5,366.9 715.6,344.5 745.8,323.5 775.9,313.0 806.1,302.8 836.2,295.2 866.3,289.9 896.5,283.1 926.6,276.2 956.8,267.1 986.9,264.1 1017.0,259.8 1047.2,258.8 1077.3,250.4 1107.5,247.4 1137.6,242.5 1167.8,238.5 1197.9,233.4 1228.0,229.4 1258.2,228.3 1288.3,222.2 1318.5,218.1 1348.6,215.1 1378.8,211.4 1408.9,207.9 1439.0,207.3 1469.2,204.8 1499.3,199.6 1529.5,191.2 1559.6,190.0 1589.7,185.7 1619.9,182.6"/>
</g>
<path d="M263.5,22.96 V1011.5 H1619.9" fill="none" stroke="#000" stroke-width="6.8" stroke-linejoin="round"/>
<path d="M229.4,1011.50H263.5 M229.4,929.12H263.5 M229.4,846.74H263.5 M229.4,764.37H263.5 M229.4,681.99H263.5 M229.4,599.61H263.5 M229.4,517.23H263.5 M229.4,434.85H263.5 M229.4,352.47H263.5 M229.4,270.10H263.5 M229.4,187.72H263.5 M229.4,105.34H263.5 M229.4,22.96H263.5 M246.5,970.31H263.5 M246.5,887.93H263.5 M246.5,805.55H263.5 M246.5,723.18H263.5 M246.5,640.80H263.5 M246.5,558.42H263.5 M246.5,476.04H263.5 M246.5,393.66H263.5 M246.5,311.28H263.5 M246.5,228.91H263.5 M246.5,146.53H263.5 M246.5,64.15H263.5 M263.50,1011.5V1045.4 M414.21,1011.5V1045.4 M564.92,1011.5V1045.4 M715.63,1011.5V1045.4 M866.34,1011.5V1045.4 M1017.05,1011.5V1045.4 M1167.76,1011.5V1045.4 M1318.47,1011.5V1045.4 M1469.18,1011.5V1045.4 M1619.89,1011.5V1045.4 M338.86,1011.5V1028.5 M489.56,1011.5V1028.5 M640.27,1011.5V1028.5 M790.99,1011.5V1028.5 M941.69,1011.5V1028.5 M1092.40,1011.5V1028.5 M1243.12,1011.5V1028.5 M1393.83,1011.5V1028.5 M1544.54,1011.5V1028.5" fill="none" stroke="#000" stroke-width="6.8" stroke-linecap="round"/>
<g font-family="Liberation Serif, Times New Roman, serif" font-size="49" fill="#000" stroke="#000" stroke-width="0.6">
<text x="206" y="1025.7" text-anchor="end">-0.02</text>
<text x="206" y="943.3" text-anchor="end">0.00</text>
<text x="206" y="860.9" text-anchor="end">0.02</text>
<text x="206" y="778.6" text-anchor="end">0.04</text>
<text x="206" y="696.2" text-anchor="end">0.06</text>
<text x="206" y="613.8" text-anchor="end">0.08</text>
<text x="206" y="531.4" text-anchor="end">0.10</text>
<text x="206" y="449.1" text-anchor="end">0.12</text>
<text x="206" y="366.7" text-anchor="end">0.14</text>
<text x="206" y="284.3" text-anchor="end">0.16</text>
<text x="206" y="201.9" text-anchor="end">0.18</text>
<text x="206" y="119.5" text-anchor="end">0.20</text>
<text x="206" y="37.2" text-anchor="end">0.22</text>
<text x="263.5" y="1105.8" text-anchor="middle">0</text>
<text x="414.2" y="1105.8" text-anchor="middle">5</text>
<text x="564.9" y="1105.8" text-anchor="middle">10</text>
<text x="715.6" y="1105.8" text-anchor="middle">15</text>
<text x="866.3" y="1105.8" text-anchor="middle">20</text>
<text x="1017.0" y="1105.8" text-anchor="middle">25</text>
<text x="1167.8" y="1105.8" text-anchor="middle">30</text>
<text x="1318.5" y="1105.8" text-anchor="middle">35</text>
<text x="1469.2" y="1105.8" text-anchor="middle">40</text>
<text x="1619.9" y="1105.8" text-anchor="middle">45</text>
<text x="941.7" y="1200.5" text-anchor="middle">Cycles</text>
<text transform="translate(38.6,530) rotate(-90)" text-anchor="middle">Fluorescence (RFU)</text>
</g>
<rect x="1652.6" y="415.5" width="842.4" height="394.5" fill="#fff" stroke="#000" stroke-width="2.2"/>
<line x1="1676.8" y1="459.4" x2="1787.7" y2="459.4" stroke="#000000" stroke-width="2.2" stroke-linecap="round"/>
<text x="1799" y="475.4" font-family="Liberation Serif, Times New Roman, serif" font-size="49" stroke="#000" stroke-width="0.6">N.C</text>
<line x1="1676.8" y1="520.0" x2="1787.7" y2="520.0" stroke="#ff0000" stroke-width="8.6" stroke-linecap="round"/>
<text x="1799" y="536.0" font-family="Liberation Serif, Times New Roman, serif" font-size="49" stroke="#000" stroke-width="0.6">V. Alginolyticus 17749 replicate1</text>
<line x1="1676.8" y1="580.6" x2="1787.7" y2="580.6" stroke="#008080" stroke-width="8.6" stroke-linecap="round"/>
<text x="1799" y="596.6" font-family="Liberation Serif, Times New Roman, serif" font-size="49" stroke="#000" stroke-width="0.6">V. Alginolyticus 17749 replicate2</text>
<line x1="1676.8" y1="641.2" x2="1787.7" y2="641.2" stroke="#ff00ff" stroke-width="8.6" stroke-linecap="round"/>
<text x="1799" y="657.2" font-family="Liberation Serif, Times New Roman, serif" font-size="49" stroke="#000" stroke-width="0.6">V. Alginolyticus 17749 replicate3</text>
<line x1="1676.8" y1="701.8" x2="1787.7" y2="701.8" stroke="#008000" stroke-width="8.6" stroke-linecap="round"/>
<text x="1799" y="717.8" font-family="Liberation Serif, Times New Roman, serif" font-size="49" stroke="#000" stroke-width="0.6">V. Alginolyticus 17749 replicate4</text>
<line x1="1676.8" y1="762.4" x2="1787.7" y2="762.4" stroke="#0000ff" stroke-width="8.6" stroke-linecap="round"/>
<text x="1799" y="778.4" font-family="Liberation Serif, Times New Roman, serif" font-size="49" stroke="#000" stroke-width="0.6">P.C</text>
</svg>
</body></html>
